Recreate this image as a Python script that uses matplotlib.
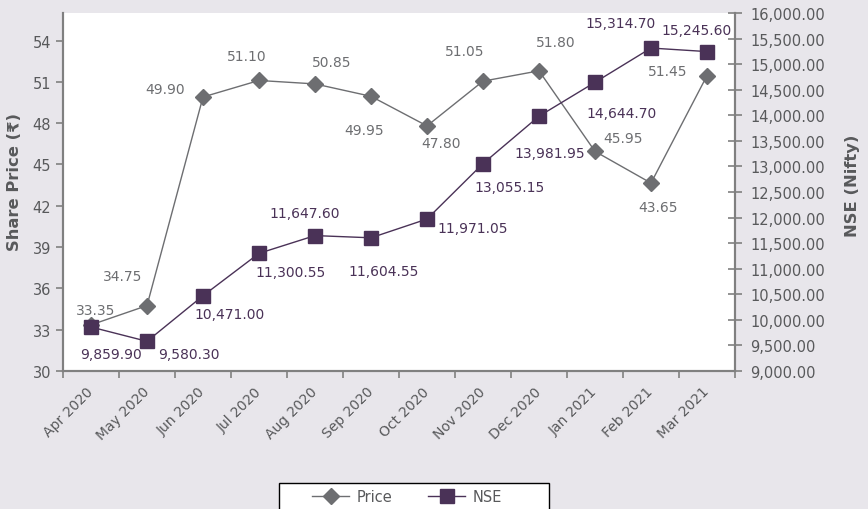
"""Share price vs NSE (Nifty), monthly, Apr 2020 - Mar 2021"""
import matplotlib
matplotlib.use("Agg")
import matplotlib.pyplot as plt
from matplotlib.patches import Rectangle
from matplotlib.ticker import FuncFormatter
plt.rc('font', family='DejaVu Sans', size=10)

months = ["Apr 2020", "May 2020", "Jun 2020", "Jul 2020", "Aug 2020", "Sep 2020",
          "Oct 2020", "Nov 2020", "Dec 2020", "Jan 2021", "Feb 2021", "Mar 2021"]
price = [33.35, 34.75, 49.90, 51.10, 50.85, 49.95, 47.80, 51.05, 51.80, 45.95, 43.65, 51.45]
nse = [9859.90, 9580.30, 10471.00, 11300.55, 11647.60, 11604.55, 11971.05,
       13055.15, 13981.95, 14644.70, 15314.70, 15245.60]
price_ticks = list(range(30, 55, 3))
nse_ticks = list(range(9000, 16001, 500))

# label offsets in pixels (dx, dy), picked by eye
price_off = [(5, 15), (-24, 30), (-38, 8), (-12, 24), (17, 22), (-7, -34),
             (14, -17), (-18, 30), (17, 29), (28, 13), (7, -24), (-39, 5)]
nse_off = [(20, -27), (42, -13), (27, -18), (32, -19), (-10, 23), (13, -33),
           (46, -9), (27, -23), (11, -37), (27, -31), (-30, 25), (-10, 22)]

BG = '#e8e6eb'
GREY = '#6d6e71'
PURPLE = '#4a3257'
AXIS = '#808080'
TXT = '#58595b'

fig = plt.figure(figsize=(8.68, 5.10), dpi=100, facecolor=BG)
ax = fig.add_axes([63/868, 1-372/510, (735-63)/868, (372-14)/510])
ax.set_facecolor('white')
ax2 = ax.twinx()

x = list(range(len(months)))
l1, = ax.plot(x, price, color=GREY, lw=1.0, marker='D', ms=8, label='Price', zorder=3)
l2, = ax2.plot(x, nse, color=PURPLE, lw=1.0, marker='s', ms=10, label='NSE', zorder=3)

for i, v in enumerate(price):
    ax.annotate(f'{v:.2f}', (i, v), xytext=price_off[i], textcoords='offset pixels',
                ha='center', va='center', color=GREY, fontsize=10)
for i, v in enumerate(nse):
    ax2.annotate(f'{v:,.2f}', (i, v), xytext=nse_off[i], textcoords='offset pixels',
                 ha='center', va='center', color=PURPLE, fontsize=10)

ax.set_xlim(-0.5, len(months) - 0.5)
ax.set_ylim(30, 56)
ax2.set_ylim(9000, 16000)
ax.set_yticks(price_ticks)
ax2.set_yticks(nse_ticks)
ax2.yaxis.set_major_formatter(FuncFormatter(lambda v, p: f'{v:,.2f}'))

ax.set_xticks(x)
ax.set_xticklabels(months, rotation=45, ha='right', va='center', rotation_mode='anchor')
ax.set_xticks([i - 0.5 for i in range(len(months) + 1)], minor=True)
ax.tick_params(axis='x', which='major', length=0, pad=13, colors=TXT, labelsize=10)
ax.tick_params(axis='x', which='minor', length=5, width=1.2, color=AXIS, direction='out')
ax.tick_params(axis='y', length=5, width=1.2, color=AXIS, labelcolor=TXT, direction='out',
               labelsize=10.5)
ax2.tick_params(axis='y', length=10, width=1.2, color=AXIS, labelcolor=TXT, direction='inout',
                pad=6, labelsize=10.5)

for a in (ax, ax2):
    a.spines['top'].set_visible(False)
    for s in ('left', 'right', 'bottom'):
        a.spines[s].set_color(AXIS)
        a.spines[s].set_linewidth(1.5)

ax.set_ylabel('Share Price (₹)', fontweight='bold', color=TXT, fontsize=11.8)
ax2.set_ylabel('NSE (Nifty)', fontweight='bold', color=TXT, fontsize=11.8)
ax.yaxis.set_label_coords((22-63)/672, (372-182)/358)
ax2.yaxis.set_label_coords((845-63)/672, (372-186)/358)

# legend box runs off the bottom edge, like the source
fig.patches.append(Rectangle((279/868, -0.05), 270/868, 0.05 + (510-484)/510,
                             transform=fig.transFigure, facecolor='white',
                             edgecolor='black', lw=1.0, zorder=0))
fig.legend([l1, l2], ['Price', 'NSE'], loc='center', bbox_to_anchor=(407/868, 1-498/510),
           ncol=2, frameon=False, handlelength=2.5, handletextpad=0.5, columnspacing=2.5,
           labelcolor=TXT, fontsize=10.5)

fig.savefig('out.png', dpi=100, facecolor=BG)
